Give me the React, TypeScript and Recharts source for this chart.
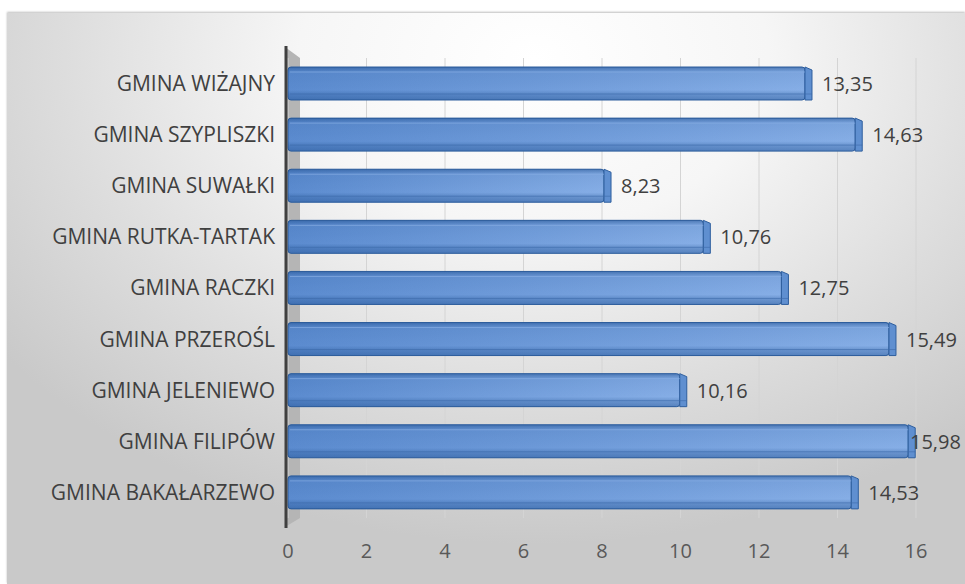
import React from "react";
import { BarChart, Bar, XAxis, YAxis, CartesianGrid, LabelList } from "recharts";

const categories = [
  "GMINA WIŻAJNY",
  "GMINA SZYPLISZKI",
  "GMINA SUWAŁKI",
  "GMINA RUTKA-TARTAK",
  "GMINA RACZKI",
  "GMINA PRZEROŚL",
  "GMINA JELENIEWO",
  "GMINA FILIPÓW",
  "GMINA BAKAŁARZEWO",
];
const values = [13.35, 14.63, 8.23, 10.76, 12.75, 15.49, 10.16, 15.98, 14.53];
const xTicks = [0, 2, 4, 6, 8, 10, 12, 14, 16];

const data = categories.map((name, i) => ({ name, value: values[i] }));

const FONT = "'Open Sans', sans-serif";
const FS = 20;

const Bar3D = (props: any) => {
  const { x, y, width, height } = props;
  if (!width || width <= 0) return null;
  const d = 7;
  const w = Math.max(width - d, 0);
  return (
    <g>
      <rect x={x} y={y} width={w} height={height} rx={3} fill="url(#barGrad)" stroke="#2f5f9e" strokeWidth={1} />
      <rect x={x} y={y} width={w} height={height} rx={3} fill="url(#barShade)" />
      <polygon
        points={`${x + w},${y} ${x + w + d},${y + 3} ${x + w + d},${y + height} ${x + w},${y + height}`}
        fill="#5f8fd0"
        stroke="#2f5f9e"
        strokeWidth={1}
      />
      <line x1={x + 2} y1={y + 5} x2={x + w} y2={y + 5} stroke="#87aee4" strokeWidth={1} opacity={0.7} />
      <line x1={x + 2} y1={y + height - 6} x2={x + w + d} y2={y + height - 6} stroke="#3d6bab" strokeWidth={1} opacity={0.6} />
    </g>
  );
};

const fmt = (v: any) => Number(v).toFixed(2).replace(".", ",");

const ValueLabel = (props: any) => {
  const { x, y, width, height, value } = props;
  const text = fmt(value);
  const estW = text.length * FS * 0.53;
  let tx = x + width + 10;
  const limit = 963;
  if (tx + estW > limit) tx = limit - estW;
  return (
    <text
      x={tx}
      y={y + height / 2}
      dominantBaseline="central"
      fill="#404040"
      fontSize={FS}
      fontFamily={FONT}
    >
      {text}
    </text>
  );
};

export default function App() {
  return (
    <div style={{ position: "absolute", left: 0, top: 0, width: 965, height: 584, background: "#ffffff" }}>
      <div
        style={{
          position: "absolute",
          left: 7,
          top: 13,
          width: 958,
          height: 571,
          background:
            "radial-gradient(ellipse 70% 85% at 55% 8%, #ffffff 0%, #f6f6f6 35%, #dddddd 70%, #c9c9c9 100%)",
          boxShadow: "0 -1px 2px #bdbdbd",
        }}
      />
      <svg style={{ position: "absolute", left: 0, top: 0 }} width={965} height={584}>
        <polygon points="285,47 300,58 300,518 285,527" fill="#b5b5b5" />
      </svg>
      <div style={{ position: "absolute", left: 0, top: 0 }}>
        <BarChart
          width={965}
          height={584}
          data={data}
          layout="vertical"
          margin={{ top: 58, right: 49, bottom: 26, left: 0 }}
          barCategoryGap={19}
        >
          <defs>
            <linearGradient id="barGrad" x1="0" y1="0" x2="1" y2="0">
              <stop offset="0%" stopColor="#5b8bcf" />
              <stop offset="100%" stopColor="#86aee6" />
            </linearGradient>
            <linearGradient id="barShade" x1="0" y1="0" x2="0" y2="1">
              <stop offset="0%" stopColor="#1f4f8f" stopOpacity={0.55} />
              <stop offset="15%" stopColor="#1f4f8f" stopOpacity={0.1} />
              <stop offset="70%" stopColor="#1f4f8f" stopOpacity={0} />
              <stop offset="82%" stopColor="#1f4f8f" stopOpacity={0.25} />
              <stop offset="100%" stopColor="#1f4f8f" stopOpacity={0.45} />
            </linearGradient>
          </defs>
          <CartesianGrid horizontal={false} vertical={true} stroke="#d4d4d4" strokeWidth={1} />
          <XAxis
            type="number"
            domain={[0, 16]}
            ticks={xTicks}
            axisLine={false}
            tickLine={false}
            tickSize={0}
            tickMargin={26}
            height={40}
            tick={{ fill: "#595959", fontSize: FS, fontFamily: FONT }}
            interval={0}
          />
          <YAxis
            type="category"
            dataKey="name"
            width={288}
            axisLine={false}
            tickLine={false}
            tickSize={0}
            tickMargin={13}
            tick={{ fill: "#404040", fontSize: 21, fontFamily: FONT }}
            interval={0}
          />
          <Bar dataKey="value" barSize={33} shape={<Bar3D />} isAnimationActive={false}>
            <LabelList dataKey="value" content={<ValueLabel />} />
          </Bar>
        </BarChart>
      </div>
      <svg style={{ position: "absolute", left: 0, top: 0, pointerEvents: "none" }} width={965} height={584}>
        <line x1={286} y1={46} x2={286} y2={528} stroke="#404040" strokeWidth={3} />
      </svg>
    </div>
  );
}
